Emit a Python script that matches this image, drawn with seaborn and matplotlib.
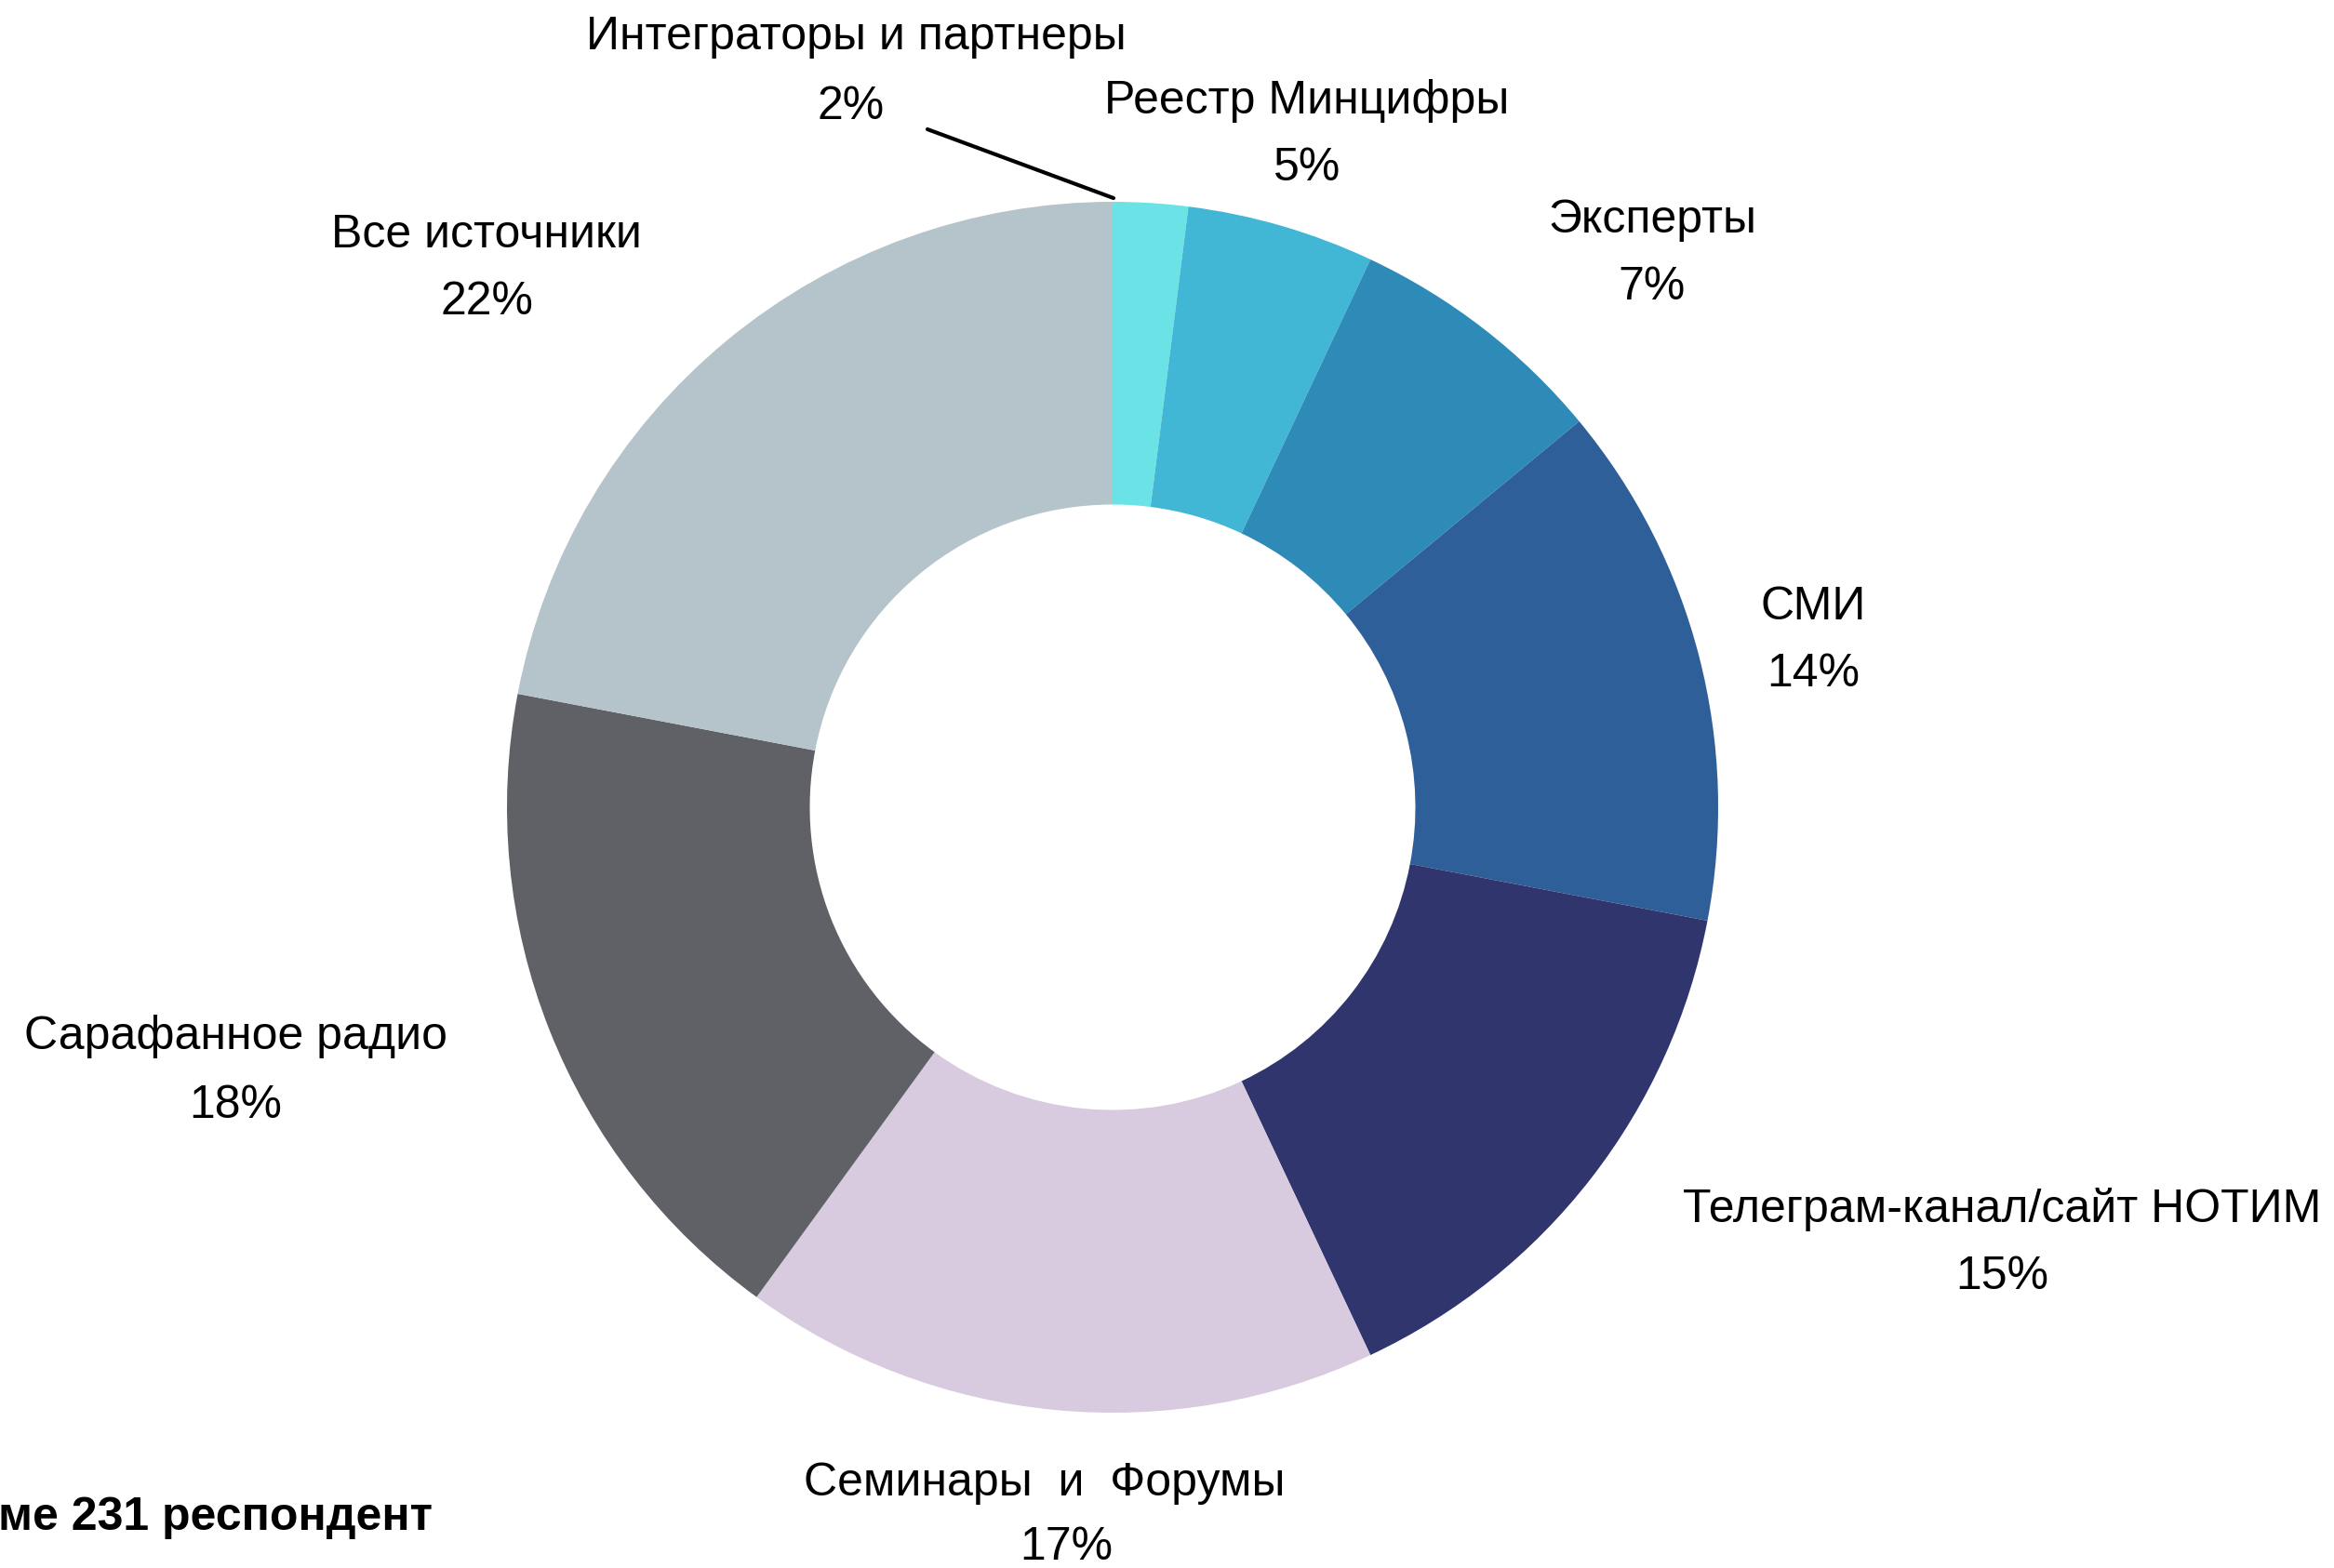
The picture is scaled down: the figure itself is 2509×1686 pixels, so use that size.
import matplotlib
matplotlib.use("Agg")
import matplotlib.pyplot as plt
import seaborn as sns

W, H = 2509, 1686

categories = ["Интеграторы и партнеры", "Реестр Минцифры", "Эксперты", "СМИ",
              "Телеграм-канал/сайт НОТИМ", "Семинары  и  Форумы",
              "Сарафанное радио", "Все источники"]
shares = [2, 5, 7, 14, 15, 17, 18, 22]
colors = ["#6be3e6", "#42b6d5", "#2e8bb8", "#2e5f98",
          "#30356e", "#d8cadf", "#606166", "#b5c4ca"]
footnote = "ме 231 респондент"

# label centers in pixels (name line, percent line)
label_pos = [((920, 40), (915, 115)),
             ((1405, 109), (1405, 181)),
             ((1776, 237), (1776, 309)),
             ((1949, 653), (1949, 725)),
             ((2152, 1301), (2152, 1373)),
             ((1123, 1595), (1146, 1664)),
             ((253, 1115), (253, 1189)),
             ((523, 253), (523, 325))]

sns.set_theme(style="white")
plt.rcParams['font.family'] = ['Liberation Sans', 'DejaVu Sans']
plt.rcParams['text.color'] = 'black'

fig = plt.figure(figsize=(W / 100, H / 100), dpi=100)
cx, cy, r = 1196, 868, 651
ax = fig.add_axes([(cx - r) / W, 1 - (cy + r) / H, 2 * r / W, 2 * r / H])
ax.pie(shares, colors=colors, startangle=90, counterclock=False,
       wedgeprops=dict(width=0.5, edgecolor='none'))
ax.set_xlim(-1, 1)
ax.set_ylim(-1, 1)
ax.set_aspect('equal')
ax.axis('off')

fs = 36
for name, val, (p1, p2) in zip(categories, shares, label_pos):
    fig.text(p1[0] / W, 1 - p1[1] / H, name, ha='center', va='center',
             fontsize=fs, color='black')
    fig.text(p2[0] / W, 1 - p2[1] / H, f"{val}%", ha='center', va='center',
             fontsize=fs, color='black')

# leader line for the small slice
fig.add_artist(plt.Line2D([997 / W, 1197 / W], [1 - 139 / H, 1 - 213 / H],
                          color='black', lw=3))

fig.text(-2 / W, 1 - 1632 / H, footnote, ha='left', va='center',
         fontsize=36, fontweight='bold', color='black')

fig.savefig("out.png", dpi=100, facecolor='white')
